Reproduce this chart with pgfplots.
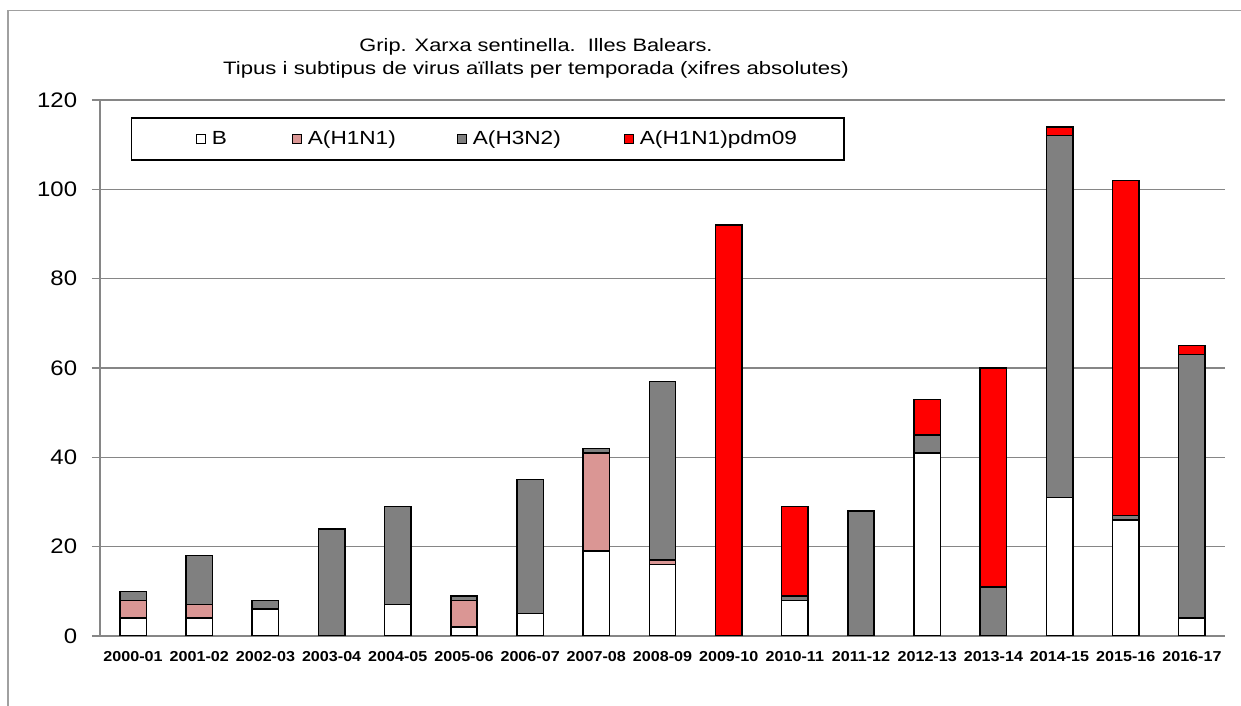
\documentclass[border=0pt]{standalone}
\usepackage{pgfplots}
\pgfplotsset{compat=1.18}
\usepackage{fontspec}
\setmainfont{Liberation Sans}
\definecolor{pinkH}{RGB}{218,150,148}
\definecolor{grayH}{RGB}{128,128,128}
\definecolor{gridg}{RGB}{134,134,134}
\definecolor{frameg}{RGB}{160,160,160}
\newcommand{\lx}[1]{\scalebox{1.19}[1]{#1}}
\begin{document}
\begin{tikzpicture}
\path[use as bounding box] (0,0) rectangle (620.5pt,353pt);
\draw[frameg, line width=0.6pt] (4pt,0pt) -- (4pt,347.75pt) -- (620.5pt,347.75pt);
\node[font=\fontsize{9}{11}\selectfont, inner sep=0pt, anchor=base] at (268pt,327.2pt) {\scalebox{1.21}[1]{Grip. Xarxa sentinella.\ \ Illes Balears.}};
\node[font=\fontsize{9}{11}\selectfont, inner sep=0pt, anchor=base] at (268pt,315.5pt) {\scalebox{1.23}[1]{Tipus i subtipus de virus aïllats per temporada (xifres absolutes)}};
\begin{axis}[at={(50pt,35pt)}, anchor=south west, scale only axis,
  width=562.5pt, height=268pt,
  ybar stacked, bar width=13.2pt,
  xmin=-0.5, xmax=16.5, ymin=0, ymax=120, ytick={0,20,...,120},
  xtick={0,...,16},
  xticklabels={2000-01,2001-02,2002-03,2003-04,2004-05,2005-06,2006-07,2007-08,2008-09,2009-10,2010-11,2011-12,2012-13,2013-14,2014-15,2015-16,2016-17},
  x tick label style={font=\bfseries\fontsize{7.2}{8}\selectfont, xscale=1.12},
  y tick label style={font=\fontsize{10.5}{12}\selectfont, xscale=1.14, xshift=-3pt},
  /pgf/number format/assume math mode=true,
  major x tick style={draw=none},
  extra x ticks={-0.5,0.5,...,16.5}, extra x tick labels={},
  extra x tick style={grid=none, major tick length=2.5pt, major tick style={draw=gridg, line width=0.6pt}},
  tick align=outside, major tick length=4pt,
  tick style={gridg, line width=0.6pt},
  axis x line*=bottom, axis y line*=left,
  axis line style={-, gridg, line width=0.6pt},
  ymajorgrids, grid style={gridg, line width=0.6pt},
  every axis plot/.append style={draw=black, line width=0.75pt},
  legend image code/.code={\draw[#1, line width=0.5pt] (0pt,-2.25pt) rectangle (4.5pt,2.25pt);},
  legend columns=4,
  legend style={draw=none, fill=none, at={(0.0849,0.9272)}, anchor=west,
    font=\fontsize{9.5}{11}\selectfont, inner xsep=0pt, nodes={inner xsep=0pt},
    /tikz/every odd column/.append style={column sep=3pt},
    /tikz/every even column/.append style={column sep=0pt}},
]
\addplot[fill=white] coordinates {(0,4) (1,4) (2,6) (3,0) (4,7) (5,2) (6,5) (7,19) (8,16) (9,0) (10,8) (11,0) (12,41) (13,0) (14,31) (15,26) (16,4)};
\addplot[fill=pinkH] coordinates {(0,4) (1,3) (2,0) (3,0) (4,0) (5,6) (6,0) (7,22) (8,1) (9,0) (10,0) (11,0) (12,0) (13,0) (14,0) (15,0) (16,0)};
\addplot[fill=grayH] coordinates {(0,2) (1,11) (2,2) (3,24) (4,22) (5,1) (6,30) (7,1) (8,40) (9,0) (10,1) (11,28) (12,4) (13,11) (14,81) (15,1) (16,59)};
\addplot[fill=red] coordinates {(0,0) (1,0) (2,0) (3,0) (4,0) (5,0) (6,0) (7,0) (8,0) (9,92) (10,20) (11,0) (12,8) (13,49) (14,2) (15,75) (16,2)};
\draw[black, line width=0.6pt, fill=white] (rel axis cs:0.0282,0.9664) rectangle (rel axis cs:0.6613,0.888);
\addlegendentry{\makebox[40pt][l]{\lx{B}}}
\addlegendentry{\makebox[74.5pt][l]{\lx{A(H1N1)}}}
\addlegendentry{\makebox[75.5pt][l]{\lx{A(H3N2)}}}
\addlegendentry{\lx{A(H1N1)pdm09}}
\end{axis}
\end{tikzpicture}
\end{document}
